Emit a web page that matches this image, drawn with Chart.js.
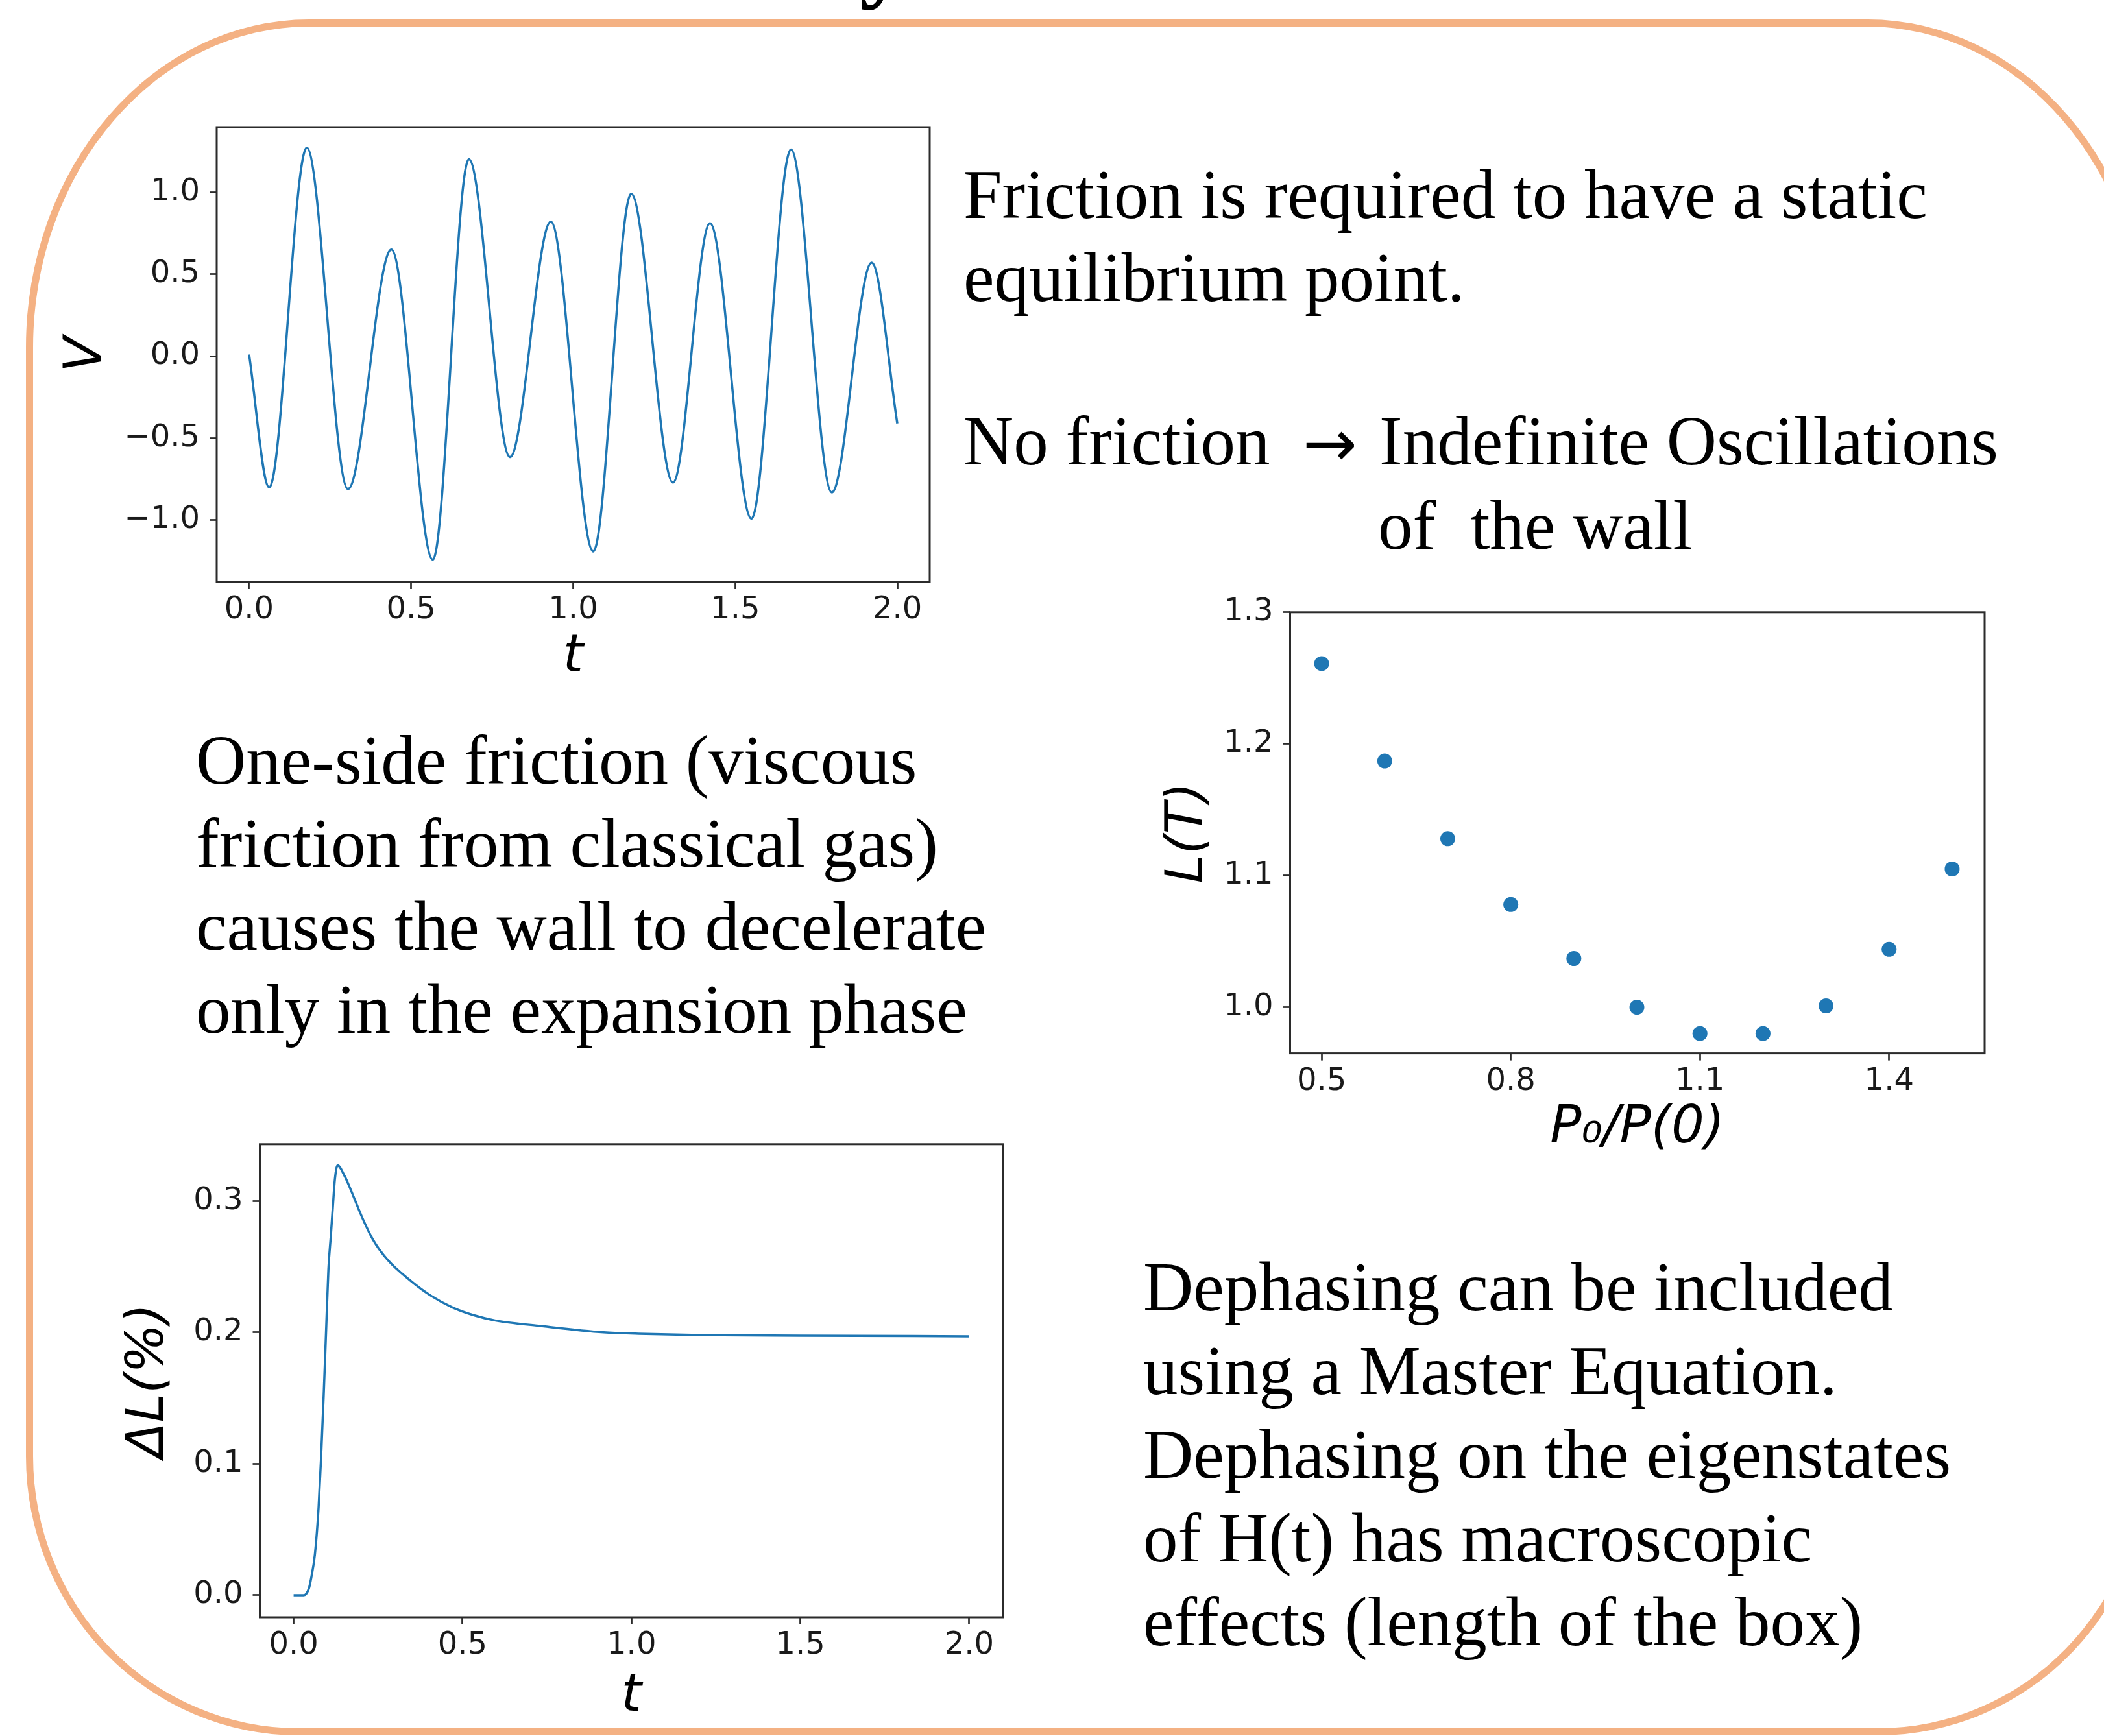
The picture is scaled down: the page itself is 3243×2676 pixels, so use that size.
<!DOCTYPE html>
<html>
<head>
<meta charset="utf-8">
<script src="https://cdn.jsdelivr.net/npm/chart.js@4.4.1/dist/chart.umd.min.js"></script>
<style>
  html, body { margin: 0; padding: 0; background: #fff; }
  body { width: 3243px; height: 2676px; position: relative; overflow: hidden; }
  .frame {
    position: absolute; left: 40px; top: 30px; width: 3275px; height: 2645px;
    box-sizing: border-box; border: 11px solid #f4b183;
    border-radius: 436px 436px 420px 420px / 505px 505px 430px 430px;
  }
  .txt {
    position: absolute; font-family: 'Liberation Serif', 'Times New Roman', serif;
    font-size: 107px; line-height: 128px; white-space: pre; color: #000;
  }
  .arrow { font-family: 'DejaVu Sans', sans-serif; font-size: 100px; }
  .head { position: absolute; left: 1325px; top: -142px; font-family: 'Liberation Serif', serif;
    font-weight: bold; font-size: 150px; line-height: 150px; }
  canvas { position: absolute; }
</style>
</head>
<body>
<div class="frame"></div>
<div class="head">y</div>

<canvas id="velocity" width="1440" height="930" style="left:40px; top:150px;"></canvas>
<canvas id="lengthT" width="1330" height="900" style="left:1760px; top:900px;"></canvas>
<canvas id="deltaL" width="1480" height="950" style="left:100px; top:1720px;"></canvas>

<div class="txt" style="left:1485px; top:236px;">Friction is required to have a static
equilibrium point.</div>
<div class="txt" style="left:1485px; top:616px;">No friction</div>
<div class="txt arrow" style="left:2008px; top:620px;">→</div>
<div class="txt" style="left:2126px; top:616px;">Indefinite Oscillations</div>
<div class="txt" style="left:2124px; top:746px;">of  the wall</div>
<div class="txt" style="left:302px; top:1108px;">One-side friction (viscous
friction from classical gas)
causes the wall to decelerate
only in the expansion phase</div>
<div class="txt" style="left:1762px; top:1920px; line-height:129px;">Dephasing can be included
using a Master Equation.
Dephasing on the eigenstates
of H(t) has macroscopic
effects (length of the box)</div>

<script>
// top panel: wall velocity V vs t (turning points)
const vTime  = [0, 0.062, 0.178, 0.305, 0.439, 0.567, 0.678, 0.805, 0.931, 1.062, 1.179, 1.308, 1.422, 1.550, 1.672, 1.798, 1.921, 2.0];
const vValue = [0.01, -0.80, 1.27, -0.81, 0.65, -1.24, 1.20, -0.615, 0.82, -1.19, 0.99, -0.77, 0.81, -0.99, 1.26, -0.83, 0.57, -0.41];
const vRangeX = [-0.1, 2.1];
const vRangeY = [-1.376, 1.396];
const vTicksX = [0, 0.5, 1, 1.5, 2];
const vTicksY = [-1, -0.5, 0, 0.5, 1];

// right panel: L(T) vs P0/P(0)
const pRatio  = [0.5, 0.6, 0.7, 0.8, 0.9, 1.0, 1.1, 1.2, 1.3, 1.4, 1.5];
const lengthT = [1.261, 1.187, 1.128, 1.078, 1.037, 1.000, 0.980, 0.980, 1.001, 1.044, 1.105];
const pRangeX = [0.45, 1.5515];
const pRangeY = [0.965, 1.3];
const pTicksX = [0.5, 0.8, 1.1, 1.4];
const pTicksY = [1.0, 1.1, 1.2, 1.3];

// bottom panel: deltaL (%) vs t
const dlTime  = [0, 0.030, 0.045, 0.052, 0.063, 0.074, 0.081, 0.089, 0.096, 0.103, 0.110, 0.116, 0.122, 0.130,
                 0.151, 0.170, 0.202, 0.234, 0.279, 0.343, 0.406, 0.470, 0.534, 0.598, 0.726, 0.918, 1.021, 1.2, 1.5, 2.0];
const dlValue = [0, 0.000, 0.005, 0.013, 0.031, 0.067, 0.103, 0.152, 0.200, 0.248, 0.273, 0.295, 0.316, 0.327,
                 0.319, 0.308, 0.288, 0.271, 0.255, 0.240, 0.228, 0.219, 0.213, 0.209, 0.205, 0.200, 0.199, 0.198, 0.1975, 0.197];
const dlRangeX = [-0.1, 2.1];
const dlRangeY = [-0.0168, 0.3432];
const dlTicksX = [0, 0.5, 1, 1.5, 2];
const dlTicksY = [0, 0.1, 0.2, 0.3];

const BLUE = '#1f77b4';
const SPINE = '#2b2b2b';
const INK = '#1a1a1a';

const fmt = v => (v < 0 ? '\u2212' : '') + Math.abs(v).toFixed(1);

// matplotlib style box around the plot area
const framePlugin = {
  id: 'frame',
  afterDatasetsDraw(chart) {
    const { ctx, chartArea: a } = chart;
    ctx.save();
    ctx.strokeStyle = SPINE;
    ctx.lineWidth = 3;
    ctx.strokeRect(a.left, a.top, a.right - a.left, a.bottom - a.top);
    ctx.restore();
  }
};

function axis(range, ticks, size, title, titlePad, isX) {
  return {
    type: 'linear',
    min: range[0],
    max: range[1],
    afterBuildTicks: s => { s.ticks = ticks.map(v => ({ value: v })); },
    afterFit: s => { if (isX) s.height = size; else s.width = size; },
    grid: { display: true, drawOnChartArea: false, drawTicks: true, tickLength: 11, tickWidth: 2.7, tickColor: SPINE },
    border: { display: false },
    ticks: {
      color: INK, padding: isX ? 4 : 15, maxRotation: 0, autoSkip: false,
      font: { family: 'DejaVu Sans', size: 48 },
      callback: v => fmt(v)
    },
    title: {
      display: true, text: title, color: '#000',
      font: { family: 'DejaVu Sans', size: 80, style: 'italic', lineHeight: 1 },
      padding: isX ? { bottom: titlePad } : { top: titlePad }
    }
  };
}

function baseOptions(pad, xAxis, yAxis) {
  return {
    responsive: false,
    animation: false,
    devicePixelRatio: 1,
    events: [],
    layout: { padding: pad },
    plugins: { legend: { display: false }, tooltip: { enabled: false } },
    scales: { x: xAxis, y: yAxis }
  };
}

const pts = (xs, ys) => xs.map((x, i) => ({ x: x, y: ys[i] }));

new Chart(document.getElementById('velocity'), {
  type: 'line',
  data: {
    datasets: [{
      data: pts(vTime, vValue),
      borderColor: BLUE, borderWidth: 3.5, pointRadius: 0, fill: false,
      cubicInterpolationMode: 'monotone'
    }]
  },
  options: baseOptions({ top: 46, right: 47 },
    axis(vRangeX, vTicksX, 183, 't', 26, true),
    axis(vRangeY, vTicksY, 294, 'V', 54, false)),
  plugins: [framePlugin]
});

new Chart(document.getElementById('lengthT'), {
  type: 'scatter',
  data: {
    datasets: [{
      data: pts(pRatio, lengthT),
      backgroundColor: BLUE, borderWidth: 0, pointRadius: 11.5
    }]
  },
  options: baseOptions({ top: 40, right: 31 },
    axis(pRangeX, pTicksX, 176.4, 'P\u2080/P(0)', 20, true),
    axis(pRangeY, pTicksY, 228.5, 'L(T)', 32, false)),
  plugins: [framePlugin]
});

new Chart(document.getElementById('deltaL'), {
  type: 'line',
  data: {
    datasets: [{
      data: pts(dlTime, dlValue),
      borderColor: BLUE, borderWidth: 3.5, pointRadius: 0, fill: false,
      cubicInterpolationMode: 'monotone'
    }]
  },
  options: baseOptions({ top: 34, right: 34 },
    axis(dlRangeX, dlTicksX, 177, 't', 14, true),
    axis(dlRangeY, dlTicksY, 300.5, '\u0394L(%)', 90, false)),
  plugins: [framePlugin]
});
</script>
</body>
</html>
